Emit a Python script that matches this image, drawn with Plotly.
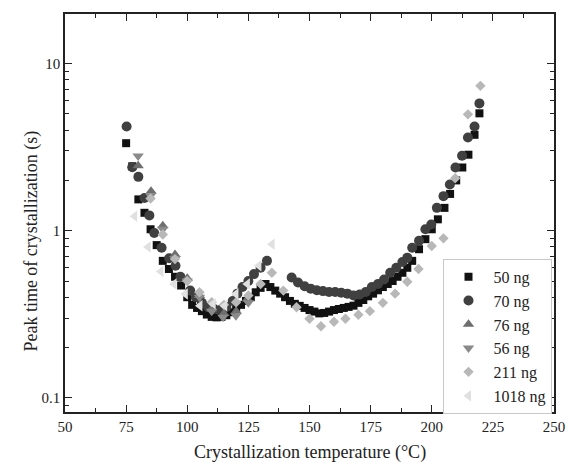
import numpy as np
import plotly.graph_objects as go

# ---- data ----
t_50 = [75, 77.5, 80, 82.5, 85, 87.5, 90, 92.5, 95, 97.5, 100, 102, 104, 106, 108, 110, 112, 114, 116, 118,
        120, 122, 124, 126, 128, 130, 132, 134, 136, 138, 140, 142, 144, 146, 148, 150, 152, 154, 156, 158,
        160, 162, 164, 166, 168, 170, 172, 174, 176, 178, 180, 182, 184, 186, 188, 190, 192, 194.8, 197.4,
        200, 202.5, 205.2, 207.5, 210, 212.5, 215, 217.5, 219.5]
v_50 = [3.34, 2.43, 1.54, 1.28, 1.02, 0.82, 0.66, 0.59, 0.53, 0.47, 0.40, 0.36, 0.345, 0.33, 0.315, 0.305,
        0.303, 0.305, 0.312, 0.325, 0.34, 0.36, 0.38, 0.40, 0.428, 0.455, 0.48, 0.46, 0.438, 0.42, 0.40, 0.38,
        0.365, 0.355, 0.345, 0.335, 0.328, 0.32, 0.322, 0.328, 0.335, 0.34, 0.345, 0.35, 0.356, 0.37, 0.385,
        0.405, 0.42, 0.44, 0.46, 0.48, 0.50, 0.53, 0.56, 0.60, 0.66, 0.775, 0.89, 1.02, 1.17, 1.37, 1.66,
        2.0, 2.39, 2.85, 3.75, 5.04]

t_70 = [75.2, 77.5, 80, 82.5, 84.5, 86.5, 89.5, 92.6, 95.2, 97.2, 101.2, 103.5, 106, 108.5, 111, 113.5,
        116, 118.6, 120.5, 122.6, 125, 127.3, 130, 132.6,
        142.7, 145.3, 148, 150.5, 153, 155.5, 158, 160.5, 163, 165.5, 168, 170.5, 173, 175.5, 178, 180.5,
        183, 185.5, 188, 190, 192, 194.8, 197.4, 199.8, 202.1, 204.8, 207.4, 209.7, 212.4, 214.8, 217.5, 219.5]
v_70 = [4.2, 2.4, 2.1, 1.57, 1.235, 0.97, 0.79, 0.685, 0.617, 0.53, 0.438, 0.40, 0.37, 0.35, 0.34, 0.335,
        0.35, 0.38, 0.42, 0.46, 0.50, 0.55, 0.60, 0.66,
        0.525, 0.49, 0.465, 0.45, 0.44, 0.435, 0.43, 0.43, 0.425, 0.42, 0.41, 0.415, 0.43, 0.46, 0.48, 0.51,
        0.56, 0.60, 0.65, 0.69, 0.79, 0.87, 1.02, 1.09, 1.37, 1.61, 1.89, 2.39, 2.81, 3.61, 4.2, 5.78]

t_76 = [79.9, 85.2, 90, 95, 100, 105, 110, 115, 120, 124.6]
v_76 = [2.45, 1.72, 1.07, 0.72, 0.52, 0.41, 0.34, 0.32, 0.33, 0.39]

t_56 = [79.9, 85, 90, 95, 100, 105, 110, 114.6, 119.9, 125]
v_56 = [2.8, 1.62, 1.02, 0.68, 0.50, 0.40, 0.33, 0.303, 0.31, 0.37]

t_211 = [85, 90, 95, 100, 105, 110, 115, 120, 125, 130, 134.6, 139.3, 144.7, 150, 154.7, 160, 164.7,
         170, 174.7, 180, 185, 190, 194.6, 200, 204.8, 209.6, 214.8, 219.9]
v_211 = [1.56, 0.95, 0.676, 0.50, 0.428, 0.373, 0.36, 0.373, 0.41, 0.48, 0.56, 0.438, 0.348, 0.297, 0.268,
         0.285, 0.297, 0.314, 0.33, 0.37, 0.42, 0.495, 0.59, 0.81, 0.90, 2.06, 4.97, 7.36]

t_1018 = [78.5, 84, 89.2, 94.6, 99.2, 105.2, 110.6, 115.3, 119.9, 124.6, 129.3, 134.7]
v_1018 = [1.22, 0.80, 0.57, 0.48, 0.418, 0.356, 0.365, 0.356, 0.418, 0.48, 0.617, 0.83]

y_tickvals = [0.1, 1, 10]
y_ticktext = ["0.1", "1", "10"]

series = [
    ("50 ng", t_50, v_50, "square", "#111111", 8),
    ("70 ng", t_70, v_70, "circle", "#404040", 10),
    ("76 ng", t_76, v_76, "triangle-up", "#6e6e6e", 10),
    ("56 ng", t_56, v_56, "triangle-down", "#8a8a8a", 10),
    ("211 ng", t_211, v_211, "diamond", "#b8b8b8", 8),
    ("1018 ng", t_1018, v_1018, "triangle-left", "#e0e0e0", 10),
]

FONT = "Liberation Serif, Times New Roman, serif"

fig = go.Figure()
for name, t, v, sym, col, sz in series:
    fig.add_trace(go.Scatter(x=t, y=v, mode="markers", name=name,
                             marker=dict(symbol=sym, color=col, size=sz, line=dict(width=0))))

axis_common = dict(showline=True, linecolor="#222", linewidth=1.5, mirror="allticks",
                   ticks="inside", tickcolor="#222", tickwidth=1.3, ticklen=7,
                   showgrid=False, zeroline=False,
                   tickfont=dict(family=FONT, size=15, color="#222"))

fig.update_xaxes(range=[50, 250], dtick=25, tick0=50,
                 minor=dict(ticks="inside", ticklen=4, dtick=12.5, tick0=50, tickcolor="#222", tickwidth=1.3),
                 **axis_common)
fig.update_yaxes(type="log", range=[-1.085, 1.297], tickvals=y_tickvals, ticktext=y_ticktext,
                 minor=dict(ticks="inside", ticklen=4, tickcolor="#222", tickwidth=1.3,
                            tickvals=[d * m for d in (0.01, 0.1, 1) for m in range(2, 10)]),
                 **axis_common)

fig.add_annotation(text="Crystallization temperature (°C)", xref="paper", yref="paper",
                   x=0.5, y=-0.1025, xanchor="center", yanchor="middle", showarrow=False,
                   font=dict(family=FONT, size=18, color="#222"))
fig.add_annotation(text="Peak time of crystallization (s)", xref="paper", yref="paper",
                   x=-0.068, y=0.43, xanchor="center", yanchor="middle", showarrow=False, textangle=-90,
                   font=dict(family=FONT, size=18, color="#222"))

fig.update_layout(
    width=577, height=469,
    margin=dict(l=65, r=14, t=12, b=57),
    plot_bgcolor="white", paper_bgcolor="white",
    legend=dict(x=0.772, y=0.385, xanchor="left", yanchor="top",
                bordercolor="#c8c8c8", borderwidth=1, bgcolor="white",
                font=dict(family=FONT, size=16, color="#222"), itemwidth=40,
                tracegroupgap=0),
    showlegend=True,
)

fig.write_html("out.html")
